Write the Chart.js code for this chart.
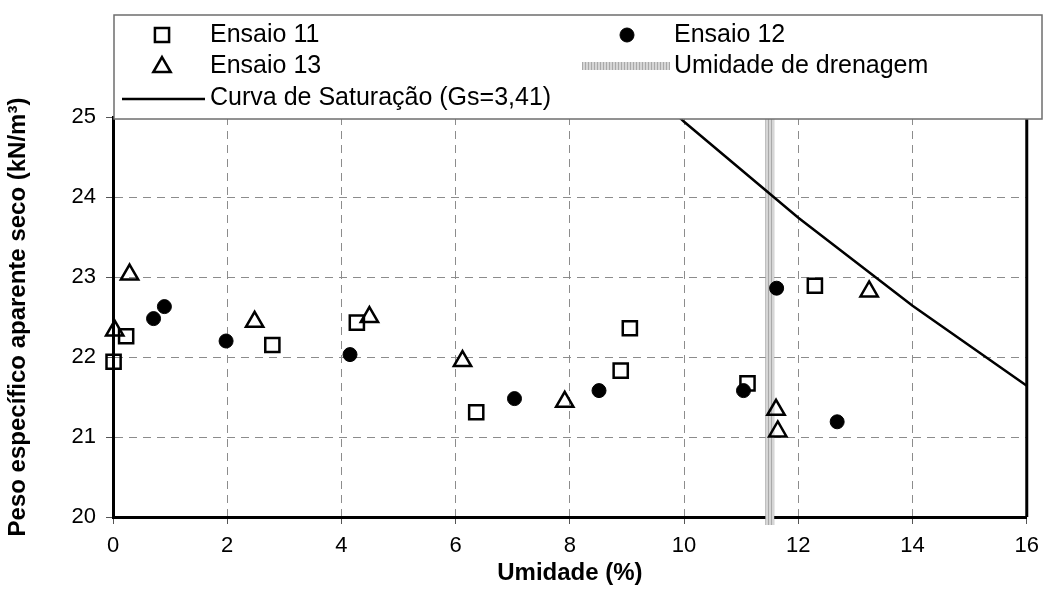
<!DOCTYPE html>
<html>
<head>
<meta charset="utf-8">
<title>Peso específico x Umidade</title>
<script src="https://cdn.jsdelivr.net/npm/chart.js@4.4.0/dist/chart.umd.min.js"></script>
<style>
  html, body { margin: 0; padding: 0; background: #fff; }
</style>
</head>
<body>
<canvas id="grafico" width="1048" height="600"></canvas>
<script>
// umidade (%) e peso específico aparente seco (kN/m³) de cada ensaio
const umidade11 = [0.01, 0.23, 2.79, 4.27, 6.36, 8.89, 9.05, 11.11, 12.29];
const peso11    = [21.94, 22.26, 22.15, 22.43, 21.31, 21.83, 22.36, 21.67, 22.89];
const umidade12 = [0.71, 0.90, 1.98, 4.15, 7.03, 8.51, 11.04, 11.62, 12.68];
const peso12    = [22.48, 22.63, 22.20, 22.03, 21.48, 21.58, 21.58, 22.86, 21.19];
const umidade13 = [0.03, 0.29, 2.48, 4.49, 6.12, 7.91, 11.61, 11.64, 13.24];
const peso13    = [22.33, 23.03, 22.44, 22.50, 21.95, 21.44, 21.34, 21.07, 22.82];

// curva de saturação (Gs=3,41)
const umidadeSat = [8, 10, 12, 14, 16, 18];
const pesoSat    = [26.28, 24.94, 23.74, 22.64, 21.64, 20.73];

// umidade de drenagem
const umidadeDren = [11.5, 11.5];
const pesoDren    = [19.9, 25];

const xTicks = [0, 2, 4, 6, 8, 10, 12, 14, 16];
const yTicks = [20, 21, 22, 23, 24, 25];

const FONTE = "'Liberation Sans', Arial, sans-serif";

const pares = (xs, ys) => xs.map((x, i) => ({x: x, y: ys[i]}));

// listras cinzas da faixa de drenagem
const listra = document.createElement('canvas');
listra.width = 3; listra.height = 1;
const lc = listra.getContext('2d');
lc.fillStyle = '#d6d6d6'; lc.fillRect(0, 0, 3, 1);
lc.fillStyle = '#a9a9a9'; lc.fillRect(0, 0, 1, 1);
const ctxG = document.getElementById('grafico').getContext('2d');
const padraoDren = ctxG.createPattern(listra, 'repeat');

const marcador = {
  quadrado: {pointStyle: 'rect', radius: 10, borderWidth: 2.5, fill: 'rgba(0,0,0,0)'},
  circulo: {pointStyle: 'circle', radius: 7, borderWidth: 1, fill: '#000'},
  triangulo: {pointStyle: 'triangle', radius: 10, borderWidth: 2.5, fill: 'rgba(0,0,0,0)'}
};

function dsPontos(label, xs, ys, m, ordem) {
  return {
    label: label,
    data: pares(xs, ys),
    pointStyle: m.pointStyle,
    pointRadius: m.radius,
    pointHoverRadius: m.radius,
    pointBorderWidth: m.borderWidth,
    pointBorderColor: '#000',
    pointBackgroundColor: m.fill,
    showLine: false,
    clip: false,
    order: ordem
  };
}

// legenda em duas colunas dentro da caixa
const legendaCaixa = {
  id: 'legendaCaixa',
  afterDraw(chart) {
    const ctx = chart.ctx;
    ctx.save();
    ctx.fillStyle = '#fff';
    ctx.fillRect(114, 15, 928, 104);
    ctx.strokeStyle = '#6e6e6e';
    ctx.lineWidth = 1.5;
    ctx.strokeRect(114, 15, 928, 104);

    const pt = (m, x, y) => {
      ctx.strokeStyle = '#000';
      ctx.fillStyle = m.fill;
      ctx.lineWidth = m.borderWidth;
      Chart.helpers.drawPoint(ctx, {pointStyle: m.pointStyle, radius: m.radius, rotation: 0, borderWidth: m.borderWidth}, x, y);
    };
    pt(marcador.quadrado, 162, 35);
    pt(marcador.circulo, 627, 35);
    pt(marcador.triangulo, 162, 67);

    ctx.fillStyle = padraoDren;
    ctx.fillRect(582, 62, 88, 8);

    ctx.strokeStyle = '#000';
    ctx.lineWidth = 2.5;
    ctx.beginPath();
    ctx.moveTo(122, 99);
    ctx.lineTo(205, 99);
    ctx.stroke();

    ctx.fillStyle = '#000';
    ctx.font = '25px ' + FONTE;
    ctx.textBaseline = 'middle';
    ctx.textAlign = 'left';
    ctx.fillText('Ensaio 11', 210, 35);
    ctx.fillText('Ensaio 12', 674, 35);
    ctx.fillText('Ensaio 13', 210, 66);
    ctx.fillText('Umidade de drenagem', 674, 66);
    ctx.fillText('Curva de Saturação (Gs=3,41)', 210, 98);
    ctx.restore();
  }
};

// borda direita da área do gráfico
const bordaDireita = {
  id: 'bordaDireita',
  beforeDatasetsDraw(chart) {
    const a = chart.chartArea;
    const ctx = chart.ctx;
    ctx.save();
    ctx.strokeStyle = '#000';
    ctx.lineWidth = 3;
    ctx.beginPath();
    ctx.moveTo(a.right, a.top);
    ctx.lineTo(a.right, a.bottom);
    ctx.stroke();
    ctx.restore();
  }
};

new Chart(document.getElementById('grafico'), {
  type: 'scatter',
  data: {
    datasets: [
      dsPontos('Ensaio 12', umidade12, peso12, marcador.circulo, 0),
      dsPontos('Ensaio 13', umidade13, peso13, marcador.triangulo, 1),
      dsPontos('Ensaio 11', umidade11, peso11, marcador.quadrado, 2),
      {
        label: 'Curva de Saturação (Gs=3,41)',
        data: pares(umidadeSat, pesoSat),
        showLine: true,
        borderColor: '#000',
        borderWidth: 2.5,
        pointRadius: 0,
        tension: 0,
        clip: {left: 0, top: 0, right: 20, bottom: 0},
        order: 3
      },
      {
        label: 'Umidade de drenagem',
        data: pares(umidadeDren, pesoDren),
        showLine: true,
        borderColor: padraoDren,
        borderWidth: 9,
        pointRadius: 0,
        clip: false,
        order: 4
      }
    ]
  },
  options: {
    responsive: false,
    animation: false,
    layout: {padding: {top: 117, right: 15, left: 0, bottom: 0}},
    plugins: {
      legend: {display: false},
      tooltip: {enabled: false}
    },
    scales: {
      x: {
        type: 'linear',
        min: 0,
        max: 16,
        afterBuildTicks: s => { s.ticks = xTicks.map(v => ({value: v})); },
        afterFit: s => { s.height = 83; },
        ticks: {color: '#000', font: {family: FONTE, size: 22}, padding: 9, maxRotation: 0},
        grid: {color: '#8c8c8c', lineWidth: 1, tickLength: 7, tickColor: '#555', tickWidth: 1},
        border: {color: '#000', width: 3, dash: [8, 6]},
        title: {
          display: true,
          text: 'Umidade (%)',
          color: '#000',
          font: {family: FONTE, size: 24, weight: 'bold'},
          padding: {top: 0, bottom: 12}
        }
      },
      y: {
        type: 'linear',
        min: 20,
        max: 25,
        afterBuildTicks: s => { s.ticks = yTicks.map(v => ({value: v})); },
        afterFit: s => { s.width = 113; },
        ticks: {color: '#000', font: {family: FONTE, size: 22}, padding: 10},
        grid: {color: '#8c8c8c', lineWidth: 1, tickLength: 7, tickColor: '#555', tickWidth: 1},
        border: {color: '#000', width: 3, dash: [8, 6]},
        title: {
          display: true,
          text: 'Peso específico aparente seco (kN/m³)',
          color: '#000',
          font: {family: FONTE, size: 24, weight: 'bold'},
          padding: {top: 4, bottom: 0}
        }
      }
    }
  },
  plugins: [bordaDireita, legendaCaixa]
});
</script>
</body>
</html>
